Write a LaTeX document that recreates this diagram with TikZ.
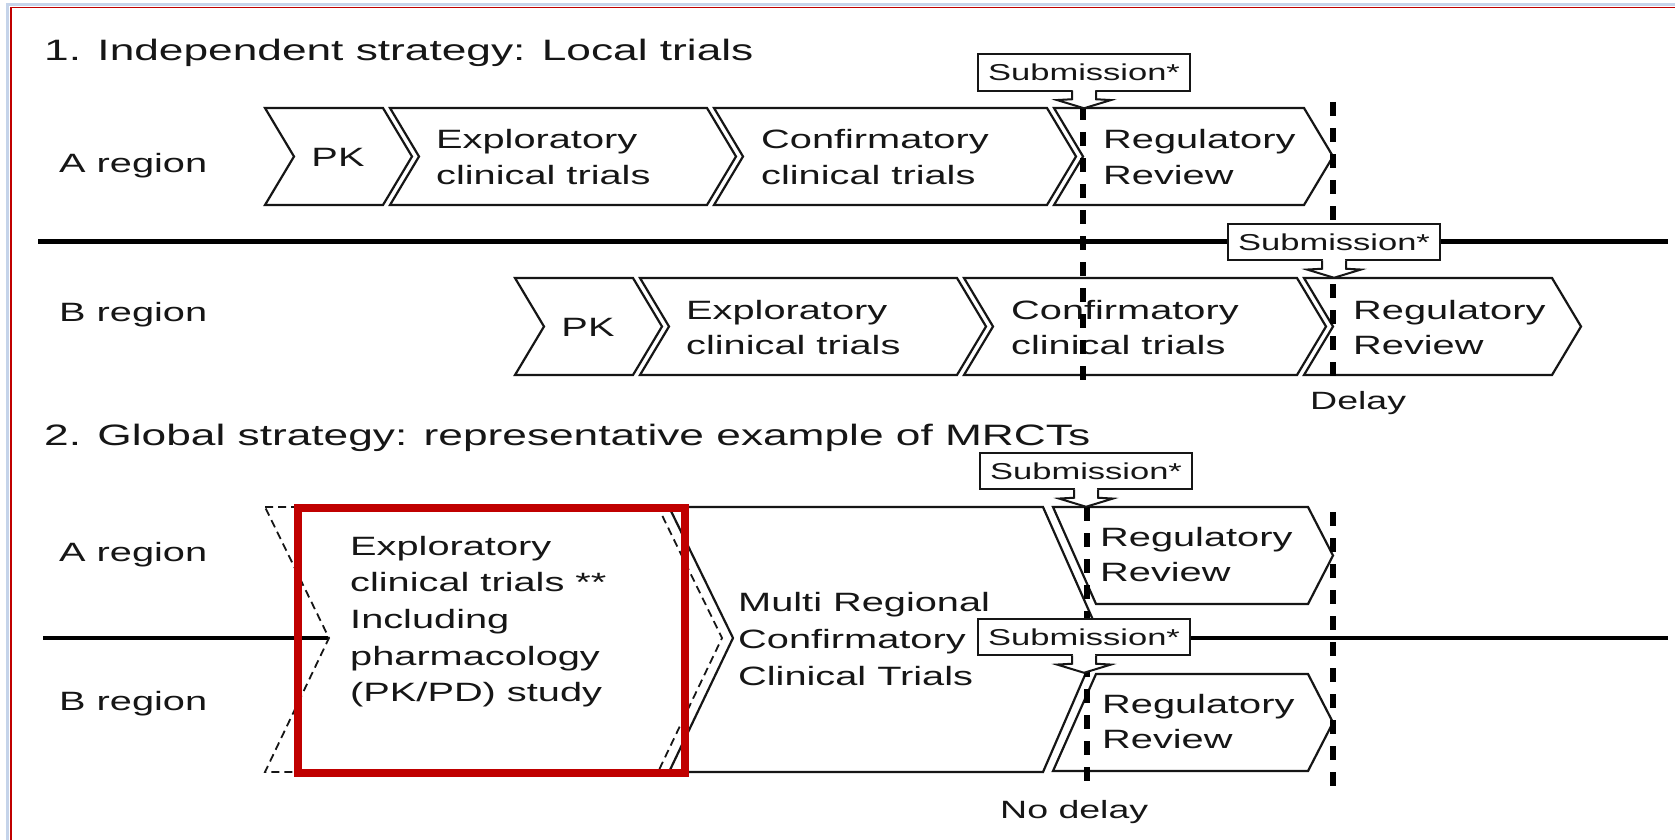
\documentclass[tikz,border=0pt]{standalone}
\usepackage{fontspec}
\setmainfont{Liberation Sans}[FakeStretch=1.5]
\usetikzlibrary{calc}
\definecolor{framered}{HTML}{C00000}
\definecolor{frameblue}{HTML}{C6D4EA}
\definecolor{ink}{HTML}{161616}
\newcommand\mychev[6][]{\draw[chev,#1] (#2,#4) -- (#3,#4) -- ({#3+#6},{(#4+#5)/2}) -- (#3,#5) -- (#2,#5) -- ({#2+#6},{(#4+#5)/2}) -- cycle;}
\newcommand\subptr[1]{%
  \fill[white] ($(#1.south)+(-11,-1.3)$) rectangle ($(#1.south)+(11,9)$);
  \filldraw[fill=white,draw=ink,line width=2,line join=miter] ($(#1.south)+(-12,0)$) -- ++(0,8.5) -- ++(-15,0.8) -- ($(#1.south)+(0,17.5)$) -- ($(#1.south)+(27,9.3)$) -- ++(-15,-0.8) -- ($(#1.south)+(12,0)$);}
\begin{document}
\begin{tikzpicture}[x=1pt,y=-1pt,
  ttl/.style={font=\fontsize{29.5}{35}\selectfont, anchor=base west, inner sep=0, text=ink},
  lbl/.style={font=\fontsize{26.5}{32}\selectfont, anchor=base west, inner sep=0, text=ink},
  lblc/.style={lbl, anchor=base},
  note/.style={font=\fontsize{25}{30}\selectfont, anchor=base west, inner sep=0, text=ink},
  sub/.style={draw=ink, line width=2, fill=white, minimum width=212, minimum height=36.5, inner sep=0, outer sep=0, font=\fontsize{23}{27}\selectfont, text=ink},
  chev/.style={draw=ink, line width=2.2, fill=white, line join=miter},
  dchev/.style={draw=ink, line width=1.8, dash pattern=on 8 off 5, fill=white, line join=miter},
  vdash/.style={draw=black, line width=6, dash pattern=on 14 off 12},
  hline/.style={draw=black, line width=4.5}]
\useasboundingbox (0,0) rectangle (1675,840);
\fill[white] (0,0) rectangle (1675,840);
% outer frame
\draw[frameblue, line width=3] (7.5,840) -- (7.5,4.5) -- (1675,4.5);
\draw[framered, line width=1.6] (11,840) -- (11,7.5) -- (1675,7.5);

% titles and region labels
\node[ttl] (t1) at (44,61) {1. Independent strategy: Local trials};
\node[ttl] (t2) at (44,445) {2. Global strategy: representative example of MRCTs};
\node[lbl] (ra1) at (59,172) {A region};
\node[lbl] (rb1) at (59,321) {B region};
\node[lbl] (ra2) at (59,561) {A region};
\node[lbl] (rb2) at (59,710) {B region};

% region separators
\draw[hline] (38,241.5) -- (1668,241.5);
\draw[hline] (43,638) -- (329,638);
\draw[hline] (1101,638) -- (1668,638);

% section 1, A region
\mychev{265}{383}{108}{205}{29}
\mychev{390}{707}{108}{205}{29}
\mychev{714}{1047}{108}{205}{29}
\mychev{1054}{1304}{108}{205}{29}
% section 1, B region
\mychev{515}{633}{278}{375}{29}
\mychev{640}{957}{278}{375}{29}
\mychev{964}{1297}{278}{375}{29}
\mychev{1304}{1552}{278}{375}{29}

% section 2 shapes
\draw[dchev] (265,507) -- (658,507) -- (722,638) -- (658,772) -- (265,772) -- (329,638) -- cycle;
\draw[chev] (669,507) -- (1043,507) -- (1101,638) -- (1043,772) -- (669,772) -- (733,638) -- cycle;
\draw[chev] (1053,507) -- (1308,507) -- (1333,555.5) -- (1308,604) -- (1096,604) -- cycle;
\draw[chev] (1096,674) -- (1308,674) -- (1333,722.5) -- (1308,771) -- (1053,771) -- cycle;

% section 1 texts
\node[lblc] (pka) at (338,166) {PK};
\node[lbl] (exa1) at (436,149) {Exploratory};
\node[lbl] (exa2) at (436,184) {clinical trials};
\node[lbl] (coa1) at (761,149) {Confirmatory};
\node[lbl] (coa2) at (761,184) {clinical trials};
\node[lbl] (rea1) at (1103,149) {Regulatory};
\node[lbl] (rea2) at (1103,184) {Review};
\node[lblc] (pkb) at (588,336) {PK};
\node[lbl] (exb1) at (686,319) {Exploratory};
\node[lbl] (exb2) at (686,354) {clinical trials};
\node[lbl] (cob1) at (1011,319) {Confirmatory};
\node[lbl] (cob2) at (1011,354) {clinical trials};
\node[lbl] (reb1) at (1353,319) {Regulatory};
\node[lbl] (reb2) at (1353,354) {Review};

% section 2 texts
\node[lbl] (gx1) at (350,555) {Exploratory};
\node[lbl] (gx2) at (350,591.7) {clinical trials **};
\node[lbl] (gx3) at (350,628.3) {Including};
\node[lbl] (gx4) at (350,665) {pharmacology};
\node[lbl] (gx5) at (350,701.7) {(PK/PD) study};
\node[lbl] (mr1) at (738,611.7) {Multi Regional};
\node[lbl] (mr2) at (738,648) {Confirmatory};
\node[lbl] (mr3) at (738,685) {Clinical Trials};
\node[lbl] (gra1) at (1100,546.7) {Regulatory};
\node[lbl] (gra2) at (1100,581.7) {Review};
\node[lbl] (grb1) at (1102,713.3) {Regulatory};
\node[lbl] (grb2) at (1102,748.3) {Review};

% time markers
\draw[vdash] (1083,106) -- (1083,385);
\draw[vdash] (1333,102) -- (1333,381);
\draw[vdash] (1087,507) -- (1087,782);
\draw[vdash] (1333,512) -- (1333,790);
\node[note] (delay) at (1310,409) {Delay};
\node[note] (nodelay) at (1000,818) {No delay};

% submission callouts
\node[sub] (sa) at (1084,72.5) {Submission*};
\subptr{sa}
\node[sub] (sb) at (1334,242) {Submission*};
\subptr{sb}
\node[sub] (sc) at (1086,471) {Submission*};
\subptr{sc}
\node[sub] (sd) at (1084,637) {Submission*};
\subptr{sd}

% highlight box
\draw[framered, line width=8] (298,508) rectangle (685,772.5);
\end{tikzpicture}
\end{document}
